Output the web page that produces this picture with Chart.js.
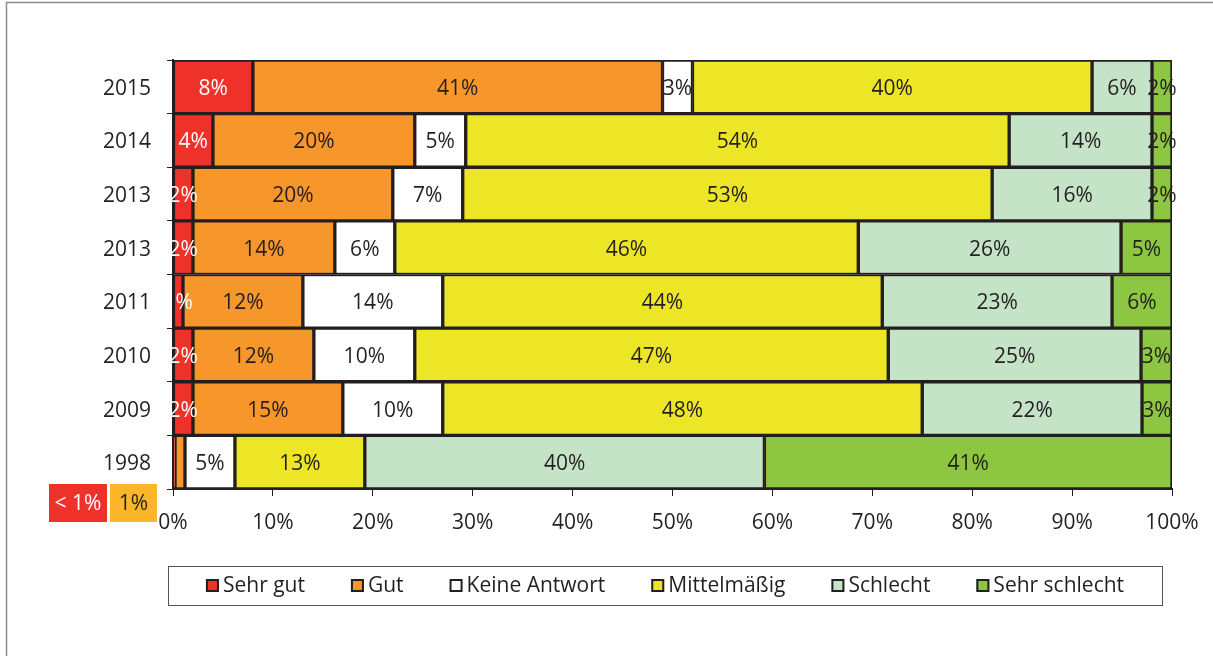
<!DOCTYPE html>
<html><head><meta charset="utf-8">
<script src="https://cdn.jsdelivr.net/npm/chart.js@4/dist/chart.umd.min.js"></script>
<style>html,body{margin:0;padding:0;background:#fff;overflow:hidden}#wrap{width:1213px;height:656px;position:relative}</style>
</head><body><div id="wrap"><canvas id="c" width="1213" height="656"></canvas></div>
<script>
const categories = ['2015','2014','2013','2013','2011','2010','2009','1998'];
const seriesNames = ['Sehr gut','Gut','Keine Antwort','Mittelmäßig','Schlecht','Sehr schlecht'];
const seriesColors = ['#EE3129','#F7962B','#FFFFFF','#EDE626','#C5E3C7','#8DC641'];
const sehrGut       = [8, 4, 2, 2, 1, 2, 2, 0.2];
const gut           = [41, 20.2, 20, 14.2, 12, 12.1, 15, 1];
const keineAntwort  = [3, 5.1, 7, 6, 14, 10.1, 10, 5];
const mittelmaessig = [40, 54.4, 53, 46.4, 44, 47.4, 48, 13];
const schlecht      = [6, 14.3, 16, 26.3, 23, 25.3, 22, 40];
const sehrSchlecht  = [2, 2, 2, 5.1, 6, 3.1, 3, 40.8];
const xTickValues = [0,10,20,30,40,50,60,70,80,90,100];
const outsideNotes = ['< 1%', '1%'];

const allSeries = [sehrGut, gut, keineAntwort, mittelmaessig, schlecht, sehrSchlecht];
const FONT = "'Open Sans', sans-serif";
const DARK = '#231F20';

const datasets = allSeries.map((d, i) => ({
  label: seriesNames[i],
  data: d,
  backgroundColor: seriesColors[i],
  borderColor: DARK,
  borderWidth: 2,
  borderSkipped: false,
  barPercentage: 1,
  categoryPercentage: 1
}));

const decorPlugin = {
  id: 'decor',
  beforeDraw(chart) {
    const ctx = chart.ctx;
    ctx.save();
    ctx.strokeStyle = '#8a8a8a';
    ctx.lineWidth = 1.5;
    ctx.beginPath();
    ctx.moveTo(6.5, 700); ctx.lineTo(6.5, 2.5); ctx.lineTo(1300, 2.5);
    ctx.stroke();
    ctx.restore();
  },
  afterDatasetsDraw(chart) {
    const ctx = chart.ctx;
    ctx.save();
    ctx.font = '21px ' + FONT;
    ctx.textAlign = 'center';
    ctx.textBaseline = 'middle';
    const last = categories.length - 1;
    chart.data.datasets.forEach((ds, di) => {
      const meta = chart.getDatasetMeta(di);
      meta.data.forEach((bar, i) => {
        if (i === last && di < outsideNotes.length) return;
        const v = ds.data[i];
        const cx = (bar.x + bar.base) / 2;
        ctx.fillStyle = di === 0 ? '#FFFFFF' : DARK;
        ctx.fillText(Math.round(v) + '%', cx, bar.y + 2);
      });
    });
    ctx.restore();
  },
  afterDraw(chart) {
    const ctx = chart.ctx;
    ctx.save();
    const boxes = [
      {x: 49, w: 58, bg: seriesColors[0], fg: '#FFFFFF'},
      {x: 110, w: 47, bg: '#FBB62A', fg: DARK}
    ];
    ctx.font = '21px ' + FONT;
    ctx.textAlign = 'center';
    ctx.textBaseline = 'middle';
    boxes.forEach((b, i) => {
      ctx.fillStyle = b.bg;
      ctx.fillRect(b.x, 484, b.w, 38);
      ctx.fillStyle = b.fg;
      ctx.fillText(outsideNotes[i], b.x + b.w / 2, 504);
    });
    const lx = 168, ly = 566, lw = 994, lh = 39;
    ctx.strokeStyle = '#555';
    ctx.lineWidth = 1;
    ctx.strokeRect(lx + 0.5, ly + 0.5, lw, lh);
    ctx.font = '21px ' + FONT;
    ctx.textAlign = 'left';
    const sq = 13, gapText = 4, gapItem = 46;
    const widths = seriesNames.map(n => sq + gapText + ctx.measureText(n).width);
    const total = widths.reduce((a, b) => a + b, 0) + gapItem * (widths.length - 1);
    let x = lx + (lw - total) / 2;
    const cy = ly + lh / 2;
    seriesNames.forEach((n, i) => {
      ctx.fillStyle = seriesColors[i];
      ctx.fillRect(x, cy - sq / 2, sq, sq);
      ctx.strokeStyle = DARK;
      ctx.lineWidth = 2;
      ctx.strokeRect(x + 1, cy - sq / 2 + 1, sq - 2, sq - 2);
      ctx.fillStyle = DARK;
      ctx.fillText(n, x + sq + gapText, cy + 1);
      x += widths[i] + gapItem;
    });
    ctx.restore();
  }
};

new Chart(document.getElementById('c'), {
  type: 'bar',
  data: { labels: categories, datasets },
  options: {
    indexAxis: 'y',
    responsive: false,
    animation: false,
    layout: { padding: { top: 60, right: 41, left: 0, bottom: 0 } },
    plugins: { legend: { display: false }, tooltip: { enabled: false } },
    scales: {
      x: {
        stacked: true,
        min: 0, max: 100,
        afterFit(s) { s.height = 167; },
        afterBuildTicks(s) { s.ticks = xTickValues.map(v => ({ value: v })); },
        ticks: { callback: v => v + '%', color: DARK, font: { family: FONT, size: 21 }, padding: 14, maxRotation: 0 },
        grid: { drawOnChartArea: false, tickLength: 7, color: DARK, lineWidth: 1 },
        border: { color: DARK, width: 2 }
      },
      y: {
        stacked: true,
        afterFit(s) { s.width = 173; },
        ticks: { color: DARK, font: { family: FONT, size: 21 }, padding: 16, labelOffset: 2 },
        grid: { drawOnChartArea: false, tickLength: 6, color: DARK, lineWidth: 1, offset: true },
        border: { color: DARK, width: 2 }
      }
    }
  },
  plugins: [decorPlugin]
});
</script></body></html>
